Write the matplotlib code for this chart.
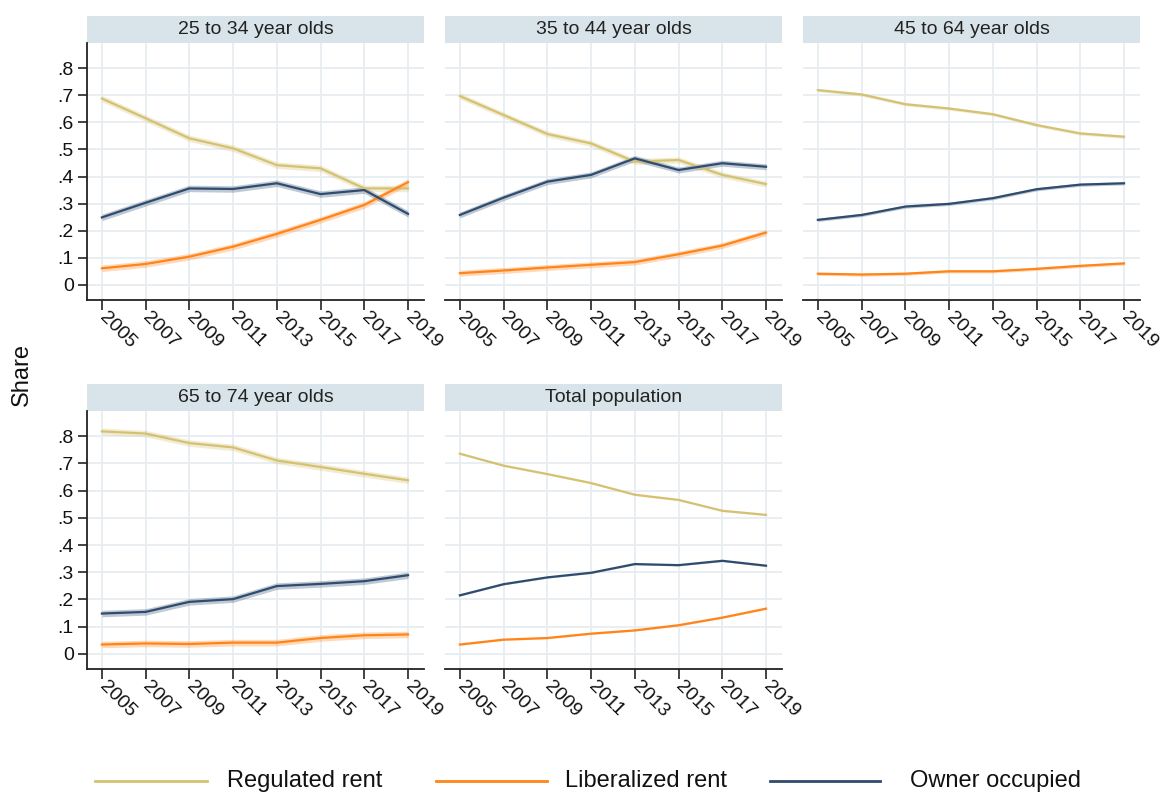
import numpy as np
import matplotlib
matplotlib.use("Agg")
import matplotlib.pyplot as plt
from matplotlib.patches import Rectangle
from matplotlib.lines import Line2D
from matplotlib.ticker import FuncFormatter

plt.rcParams['font.family'] = ['Liberation Sans', 'DejaVu Sans']

years = [2005, 2007, 2009, 2011, 2013, 2015, 2017, 2019]
panels = ['25 to 34 year olds', '35 to 44 year olds', '45 to 64 year olds',
          '65 to 74 year olds', 'Total population']

regulated = [
    [0.688, 0.615, 0.541, 0.504, 0.442, 0.430, 0.356, 0.356],
    [0.697, 0.627, 0.557, 0.522, 0.455, 0.461, 0.406, 0.372],
    [0.719, 0.703, 0.667, 0.651, 0.630, 0.590, 0.559, 0.547],
    [0.818, 0.810, 0.775, 0.759, 0.711, 0.687, 0.662, 0.638],
    [0.736, 0.692, 0.661, 0.628, 0.585, 0.566, 0.526, 0.511],
]
liberalized = [
    [0.061, 0.077, 0.104, 0.141, 0.188, 0.240, 0.295, 0.379],
    [0.043, 0.053, 0.064, 0.074, 0.084, 0.113, 0.145, 0.193],
    [0.041, 0.038, 0.041, 0.050, 0.050, 0.059, 0.070, 0.079],
    [0.034, 0.038, 0.036, 0.041, 0.041, 0.058, 0.068, 0.071],
    [0.034, 0.052, 0.058, 0.074, 0.086, 0.105, 0.133, 0.166],
]
owner = [
    [0.249, 0.303, 0.356, 0.354, 0.375, 0.335, 0.350, 0.262],
    [0.258, 0.322, 0.381, 0.406, 0.467, 0.424, 0.449, 0.436],
    [0.240, 0.258, 0.289, 0.299, 0.320, 0.353, 0.370, 0.375],
    [0.148, 0.154, 0.191, 0.201, 0.249, 0.257, 0.267, 0.289],
    [0.215, 0.256, 0.281, 0.298, 0.330, 0.326, 0.342, 0.324],
]
# half-width of the 95% band per panel
ci_half = [0.012, 0.011, 0.006, 0.012, 0.003]

series = [('Regulated rent', regulated, '#d4c272'),
          ('Liberalized rent', liberalized, '#ff8419'),
          ('Owner occupied', owner, '#2f4c6e')]

W, H = 1163, 793
fig = plt.figure(figsize=(W / 100, H / 100), dpi=100)

# panel boxes in pixels: left, top, bottom
lefts = [87, 445, 803, 87, 445]
tops = [43, 43, 43, 411, 411]
bottoms = [300, 300, 300, 669, 669]
pw = 337
head_h = 27

fmt = FuncFormatter(lambda v, p: '0' if abs(v) < 1e-9 else ('%.1f' % v).lstrip('0'))

for i, name in enumerate(panels):
    l, t, b = lefts[i], tops[i], bottoms[i]
    ax = fig.add_axes([l / W, (H - b) / H, pw / W, (b - t) / H])
    yr = np.array(years)
    for lab, data, col in series:
        vals = np.array(data[i])
        ax.fill_between(yr, vals - ci_half[i], vals + ci_half[i], color=col,
                        alpha=0.3, linewidth=0, zorder=2)
        ax.plot(yr, vals, color=col, lw=1.6, zorder=3)

    ax.set_xlim(2004.32, 2019.73)
    ax.set_ylim(-0.056, 0.893)
    ax.set_xticks(years)
    ax.set_yticks(np.arange(0, 0.81, 0.1))
    ax.yaxis.set_major_formatter(fmt)
    ax.grid(True, color='#e6edf1', lw=1.3, zorder=0)
    ax.set_axisbelow(True)
    for s in ['top', 'right']:
        ax.spines[s].set_visible(False)
    ax.spines['bottom'].set_color('#222222')
    ax.spines['bottom'].set_linewidth(1.3)
    ax.tick_params(axis='x', length=7, width=1.2, color='#222222', pad=4)
    for tl in ax.get_xticklabels():
        tl.set_rotation(-45)
        tl.set_rotation_mode('anchor')
        tl.set_ha('left')
        tl.set_va('center')
        tl.set_fontsize(14)
        tl.set_color('#111111')
    if i % 3 == 0:
        ax.spines['left'].set_color('#222222')
        ax.spines['left'].set_linewidth(1.3)
        ax.tick_params(axis='y', length=6.5, width=1.2, color='#222222',
                       labelsize=14, labelcolor='#111111', pad=3)
    else:
        ax.spines['left'].set_visible(False)
        ax.tick_params(axis='y', length=0, labelleft=False)

    # strip header
    hh = head_h / (b - t)
    ax.add_patch(Rectangle((0, 1), 1, hh, transform=ax.transAxes,
                           facecolor='#d8e4ea', edgecolor='none', clip_on=False))
    ax.text(0.5, 1 + hh / 2, name, transform=ax.transAxes, ha='center',
            va='center', fontsize=14, color='#222222')

fig.text(22 / W, 1 - 375 / H, 'Share', rotation=90, ha='center', va='center',
         fontsize=17, color='#111111')

# legend row along the bottom edge
leg_y = 1 - 781 / H
line_x = [(95, 207), (436, 547), (770, 880)]
text_x = [227, 565, 910]
for (lab, _, col), (x0, x1), tx in zip(series, line_x, text_x):
    fig.add_artist(Line2D([x0 / W, x1 / W], [leg_y, leg_y], color=col, lw=2,
                          transform=fig.transFigure))
    fig.text(tx / W, leg_y, lab, ha='left', va='center', fontsize=17,
             color='#111111')

fig.savefig('out.png', dpi=100)
